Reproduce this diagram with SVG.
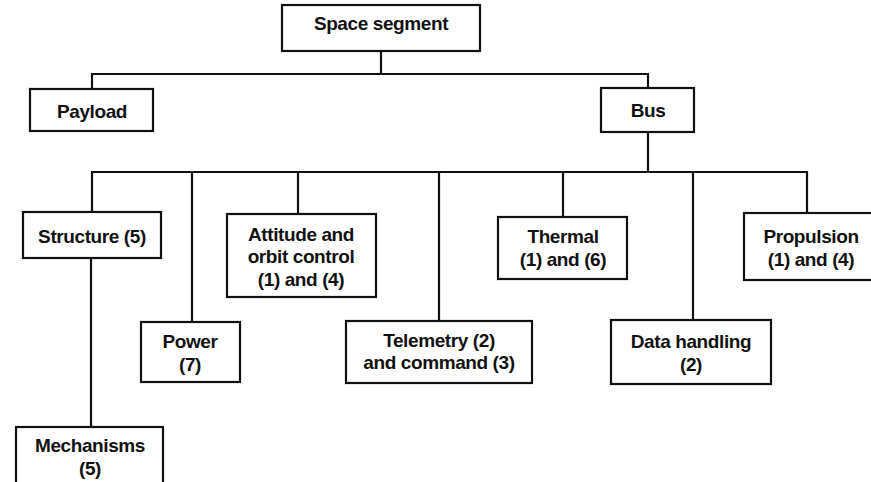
<svg xmlns="http://www.w3.org/2000/svg" width="871" height="482" viewBox="0 0 871 482">
<style>
.box{fill:#fff;stroke:#111;stroke-width:2.2}
.t{font-family:"Liberation Sans",Arial,sans-serif;font-weight:bold;font-size:19px;fill:#111;text-anchor:middle;letter-spacing:-0.4px}
.c{fill:none;stroke:#111;stroke-width:2.2}
</style>
<rect width="871" height="482" fill="#fff"/>
<g id="connectors">
<path class="c" d="M381,51 V74 M91,74 H649 M92,74 V89 M648,74 V88"/>
<path class="c" d="M648,132 V172 M91,172 H808"/>
<path class="c" d="M92,172 V212 M192,172 V322 M298,172 V214 M439,172 V321 M563,172 V217 M693,172 V320 M807,172 V213"/>
<path class="c" d="M91,258 V427"/>
</g>
<g id="space-segment"><rect class="box" x="282" y="5" width="198" height="46"/><text class="t" x="381" y="30">Space segment</text></g>
<g id="payload"><rect class="box" x="30" y="89" width="123" height="42"/><text class="t" x="92" y="118">Payload</text></g>
<g id="bus"><rect class="box" x="601" y="88" width="93" height="44"/><text class="t" x="648" y="117">Bus</text></g>
<g id="structure"><rect class="box" x="23" y="212" width="138" height="46"/><text class="t" x="92" y="243">Structure (5)</text></g>
<g id="power"><rect class="box" x="141" y="322" width="99" height="60"/><text class="t" x="190" y="348">Power</text><text class="t" x="190" y="371">(7)</text></g>
<g id="attitude"><rect class="box" x="227" y="214" width="149" height="83"/><text class="t" x="301" y="241">Attitude and</text><text class="t" x="301" y="263">orbit control</text><text class="t" x="301" y="286">(1) and (4)</text></g>
<g id="telemetry"><rect class="box" x="346" y="321" width="186" height="62"/><text class="t" x="439" y="347">Telemetry (2)</text><text class="t" x="439" y="369">and command (3)</text></g>
<g id="thermal"><rect class="box" x="498" y="217" width="129" height="62"/><text class="t" x="563" y="243">Thermal</text><text class="t" x="563" y="266">(1) and (6)</text></g>
<g id="data-handling"><rect class="box" x="611" y="320" width="160" height="64"/><text class="t" x="691" y="348">Data handling</text><text class="t" x="691" y="371">(2)</text></g>
<g id="propulsion"><rect class="box" x="744" y="213" width="140" height="67"/><text class="t" x="811" y="243">Propulsion</text><text class="t" x="811" y="266">(1) and (4)</text></g>
<g id="mechanisms"><rect class="box" x="16" y="427" width="147" height="70"/><text class="t" x="90" y="452">Mechanisms</text><text class="t" x="90" y="475">(5)</text></g>
</svg>
